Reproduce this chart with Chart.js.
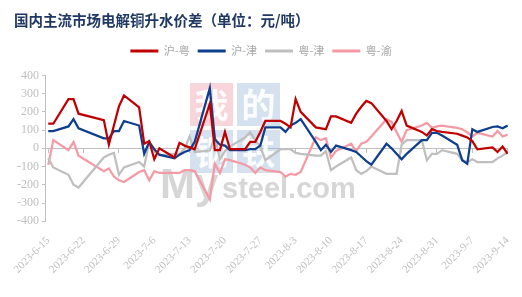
<!DOCTYPE html>
<html><head><meta charset="utf-8">
<script src="https://cdn.jsdelivr.net/npm/chart.js@4.4.0/dist/chart.umd.min.js"></script>
<style>html,body{margin:0;padding:0;background:#fff}</style>
</head><body>
<canvas id="c" width="522" height="297"></canvas>
<script>
const dates = ['2023-6-15','2023-6-16','2023-6-19','2023-6-20','2023-6-21','2023-6-26','2023-6-27','2023-6-28','2023-6-29','2023-6-30',
'2023-7-3','2023-7-4','2023-7-5','2023-7-6','2023-7-7','2023-7-10','2023-7-11','2023-7-12','2023-7-13','2023-7-14',
'2023-7-17','2023-7-18','2023-7-19','2023-7-20','2023-7-21','2023-7-24','2023-7-25','2023-7-26','2023-7-27','2023-7-28',
'2023-7-31','2023-8-1','2023-8-2','2023-8-3','2023-8-4','2023-8-7','2023-8-8','2023-8-9','2023-8-10','2023-8-11',
'2023-8-14','2023-8-15','2023-8-16','2023-8-17','2023-8-18','2023-8-21','2023-8-22','2023-8-23','2023-8-24','2023-8-25',
'2023-8-28','2023-8-29','2023-8-30','2023-8-31','2023-9-1','2023-9-4','2023-9-5','2023-9-6','2023-9-7','2023-9-8',
'2023-9-11','2023-9-12','2023-9-13','2023-9-14'];
const huYue = [135,135,270,270,190,155,20,125,230,290,
225,25,40,-60,0,-50,30,15,5,-5,
245,-10,-10,90,-5,-5,35,35,90,150,
150,135,115,270,200,115,110,105,175,175,
140,190,228,260,248,150,105,150,205,125,
90,70,105,95,90,80,70,60,40,-5,
5,-20,10,-30];
const huJin = [95,95,120,160,110,55,55,95,95,150,
125,-30,35,-5,-35,-55,-35,-20,-10,35,
330,50,20,15,-10,-10,-5,-5,15,115,
115,90,125,140,160,35,-10,20,-20,15,
-10,-20,-45,-70,-90,25,0,-30,-60,-30,
45,45,85,85,70,20,-65,-85,105,90,
117,120,110,125];
const yueJin = [-55,-105,-145,-200,-215,-50,-35,-25,-145,-105,
-75,-100,35,-12,-38,-30,-30,-3,65,-20,
-12,65,-60,-15,10,60,88,45,10,-65,
-5,-5,-5,-25,-30,-40,-40,-15,-120,-100,
-50,-120,-140,-125,-100,-140,-140,-140,20,45,
45,-65,-30,-30,-10,-30,-65,-75,-60,-75,
-75,-55,-40,-20];
const yueYu = [-90,45,-10,35,-40,-125,-110,-155,-175,-185,
-130,-120,-175,-125,-135,-135,-135,-120,-120,-125,
-280,-85,-135,-60,-65,-90,-105,-135,-105,-120,
-130,-155,-140,-145,-130,60,45,55,-50,-15,
25,-15,26,36,65,160,145,90,35,100,
125,140,112,120,125,112,105,88,65,85,
65,95,65,75];
const tickLabels = ['2023-6-15','2023-6-22','2023-6-29','2023-7-6','2023-7-13','2023-7-20','2023-7-27',
'2023-8-3','2023-8-10','2023-8-17','2023-8-24','2023-8-31','2023-9-7','2023-9-14'];
const seriesNames = ['沪-粤','沪-津','粤-津','粤-渝'];
const yTicks = [-400,-300,-200,-100,0,100,200,300,400];

const t0 = Date.UTC(2023,5,15);
const dayOf = s => { const p = s.split('-').map(Number); return Math.round((Date.UTC(p[0],p[1]-1,p[2]) - t0)/864e5); };
const xs = dates.map(dayOf);
const mk = arr => arr.map((v,i)=>({x: xs[i], y: v}));
const colors = ['#C00000','#0E3F8F','#BFBFBF','#F49AA4'];
const seriesData = [huYue, huJin, yueJin, yueYu];
const tickDays = tickLabels.map(dayOf);
const setTicks = s => { s.ticks = tickDays.map(v => ({value: v})); };
const xMin = -0.45, xMax = 91.05;

const legendSpacer = {
  id: 'legendSpacer',
  beforeInit(chart) {
    const orig = chart.legend.fit;
    chart.legend.fit = function () { orig.call(this); this.height += 9; };
  }
};

const watermark = {
  id: 'wm',
  beforeDatasetsDraw(chart) {
    const ctx = chart.ctx;
    ctx.save();
    const boxes = [
      [190, 83, 'rgba(236,150,165,0.40)', '我'],
      [237, 83, 'rgba(150,180,215,0.40)', '的'],
      [190, 130, 'rgba(150,180,215,0.40)', '钢'],
      [237, 130, 'rgba(150,180,215,0.40)', '铁']
    ];
    ctx.textAlign = 'center';
    ctx.textBaseline = 'middle';
    ctx.font = 'bold 34px "Noto Sans CJK SC"';
    boxes.forEach(b => {
      ctx.fillStyle = b[2];
      ctx.fillRect(b[0], b[1], 43, 43);
      ctx.fillStyle = 'rgba(255,255,255,0.9)';
      ctx.fillText(b[3], b[0] + 21.5, b[1] + 22);
    });
    ctx.textAlign = 'left';
    ctx.textBaseline = 'alphabetic';
    ctx.fillStyle = 'rgba(200,200,200,0.75)';
    ctx.font = 'bold 42px "Liberation Sans"';
    ctx.fillText('My', 160, 198, 60);
    ctx.font = 'bold 29px "Liberation Sans"';
    ctx.fillText('steel.com', 222, 198, 138);
    ctx.restore();
  }
};

new Chart(document.getElementById('c'), {
  type: 'line',
  data: {
    datasets: seriesNames.map((n, i) => ({
      label: n,
      data: mk(seriesData[i]),
      borderColor: colors[i],
      backgroundColor: colors[i],
      borderWidth: 2.25,
      pointRadius: 0,
      tension: 0,
      xAxisID: 'x'
    }))
  },
  options: {
    responsive: false,
    animation: false,
    devicePixelRatio: 1,
    layout: { padding: { left: 14, right: 14, top: 0, bottom: 16 } },
    plugins: {
      title: {
        display: true,
        text: '国内主流市场电解铜升水价差（单位：元/吨）',
        align: 'start',
        color: '#1F3864',
        font: { family: '"Noto Sans CJK SC"', size: 14.5, weight: 'bold' },
        padding: { top: 12, bottom: 8 }
      },
      legend: {
        position: 'top',
        align: 'center',
        labels: {
          boxWidth: 28,
          boxHeight: 3,
          padding: 8,
          color: '#A6A6A6',
          font: { family: '"Noto Sans CJK SC"', size: 11 },
          generateLabels(chart) {
            return chart.data.datasets.map((d, i) => ({
              text: d.label, fillStyle: d.borderColor, strokeStyle: d.borderColor,
              lineWidth: 0, hidden: false, datasetIndex: i, fontColor: '#A6A6A6'
            }));
          }
        }
      },
      tooltip: { enabled: false }
    },
    scales: {
      x: {
        type: 'linear', min: xMin, max: xMax, position: 'bottom',
        afterBuildTicks: setTicks,
        border: { display: false },
        grid: { display: false },
        ticks: {
          autoSkip: false, minRotation: 45, maxRotation: 45, padding: 5,
          color: '#BFBFBF',
          font: { family: '"Liberation Serif"', size: 11 },
          callback: (v) => tickLabels[tickDays.indexOf(v)]
        }
      },
      x2: {
        type: 'linear', min: xMin, max: xMax, position: { y: 0 },
        afterBuildTicks: setTicks,
        ticks: { display: false },
        grid: { drawOnChartArea: false, drawTicks: true, tickLength: 4, color: '#BFBFBF' },
        border: { color: '#BFBFBF', width: 1 }
      },
      y: {
        min: -400, max: 400,
        afterBuildTicks: s => { s.ticks = yTicks.map(v => ({value: v})); },
        ticks: { color: '#BFBFBF', font: { family: '"Liberation Serif"', size: 12 }, padding: 3 },
        grid: { drawOnChartArea: false, tickLength: 4, color: '#BFBFBF' },
        border: { color: '#BFBFBF' }
      }
    }
  },
  plugins: [legendSpacer, watermark]
});
</script>
</body></html>
